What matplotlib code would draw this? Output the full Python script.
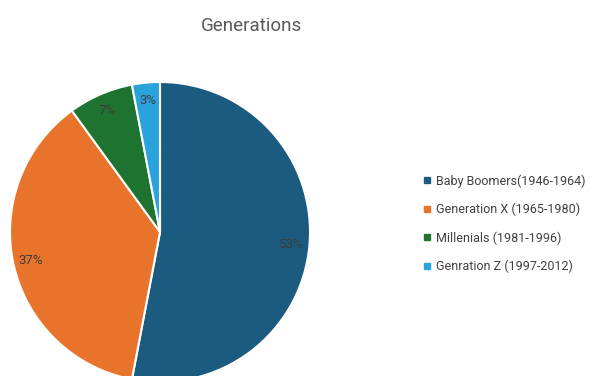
import matplotlib.pyplot as plt
from matplotlib.lines import Line2D

plt.rcParams['font.family'] = ['Roboto', 'DejaVu Sans']

labels = ["Baby Boomers(1946-1964)", "Generation X (1965-1980)",
          "Millenials (1981-1996)", "Genration Z (1997-2012)"]
shares = [53, 37, 7, 3]
colors = ["#1b5b80", "#e8742c", "#1e7330", "#2aa3dc"]

fig = plt.figure(figsize=(5.95, 3.76), dpi=100)
ax = fig.add_axes([0, 0, 1, 1])

wedges, texts, autotexts = ax.pie(
    shares, colors=colors, startangle=90, counterclock=False,
    center=(160, 144), radius=150, frame=False,
    autopct=lambda p: f"{p:.0f}%", pctdistance=0.88,
    wedgeprops=dict(edgecolor="white", linewidth=1.5),
    textprops=dict(fontsize=9.5, color="#3c3c3c"),
)
ax.set_xlim(0, 595)
ax.set_ylim(0, 376)
ax.set_aspect("equal")

fig.text(0.422, 0.93, "Generations", ha="center", va="center",
         fontsize=13.5, color="#595959")

handles = [Line2D([], [], marker="s", linestyle="none", markersize=4.5,
                  markerfacecolor=c, markeredgecolor=c) for c in colors]
leg = fig.legend(handles, labels, loc="center left",
                 bbox_to_anchor=(0.693, 0.405), frameon=False,
                 fontsize=9.0, labelspacing=1.2, handlelength=0.6,
                 handletextpad=0.4, labelcolor="#404040")

fig.savefig("out.png", dpi=100)
